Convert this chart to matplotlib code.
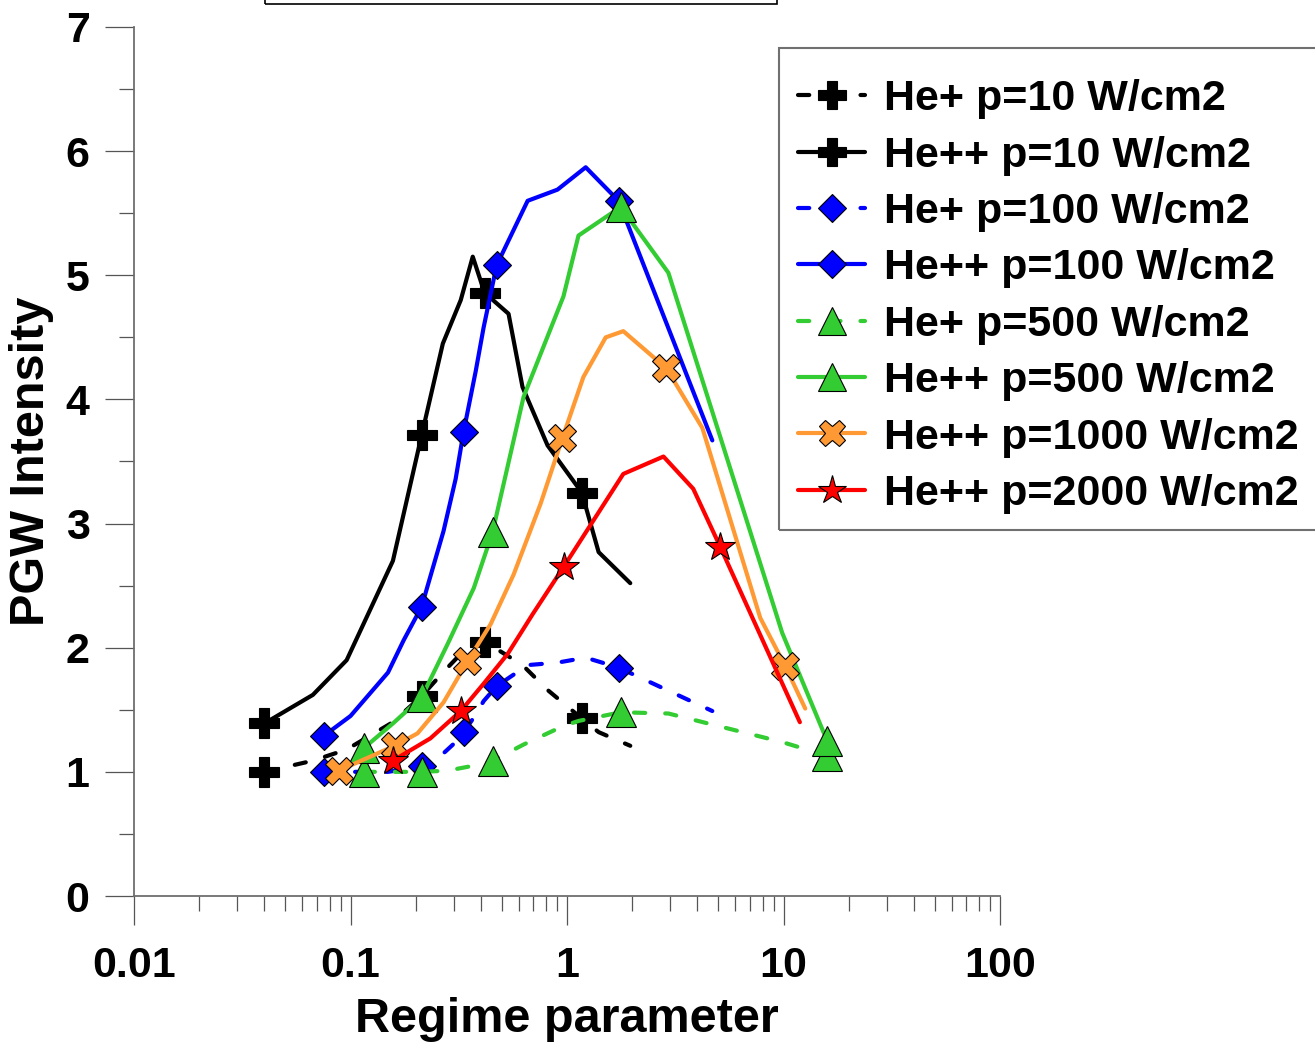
import matplotlib
matplotlib.use("Agg")
import matplotlib.pyplot as plt
from matplotlib.patches import Rectangle
from matplotlib.ticker import LogLocator, MultipleLocator, FixedFormatter, FixedLocator, NullFormatter

plt.rcParams["font.family"] = ["Liberation Sans", "DejaVu Sans"]
plt.rcParams["font.weight"] = "bold"

# He+ / He++ at p=10 W/cm2
x_p10 = [0.040, 0.067, 0.096, 0.157, 0.213, 0.267, 0.323, 0.367, 0.416, 0.537, 0.623, 0.813, 1.17, 1.40, 1.96]
he1_p10 = [1.00, 1.09, 1.18, 1.40, 1.61, 1.80, 1.95, 2.02, 2.05, 1.93, 1.86, 1.66, 1.43, 1.32, 1.21]
he2_p10 = [1.39, 1.62, 1.90, 2.70, 3.71, 4.45, 4.80, 5.15, 4.86, 4.69, 4.10, 3.63, 3.25, 2.77, 2.52]
mk_p10 = [0, 4, 8, 12]

# p=100 W/cm2
x_p100 = [0.0753, 0.100, 0.149, 0.176, 0.213, 0.269, 0.306, 0.333, 0.379, 0.412, 0.473, 0.658, 0.904, 1.22, 1.73, 4.69]
he1_p100 = [1.00, 1.00, 1.00, 1.02, 1.05, 1.15, 1.24, 1.32, 1.46, 1.57, 1.69, 1.86, 1.88, 1.92, 1.84, 1.49]
he2_p100 = [1.29, 1.45, 1.80, 2.06, 2.33, 2.94, 3.36, 3.74, 4.23, 4.58, 5.08, 5.60, 5.69, 5.87, 5.60, 3.67]
mk_p100 = [0, 4, 7, 10, 14]

# p=500 W/cm2
x_p500 = [0.115, 0.157, 0.213, 0.281, 0.371, 0.453, 0.63, 0.963, 1.13, 1.77, 2.94, 9.86, 15.9]
he1_p500 = [1.00, 1.00, 1.00, 1.01, 1.05, 1.09, 1.22, 1.37, 1.41, 1.48, 1.47, 1.24, 1.13]
he2_p500 = [1.19, 1.39, 1.60, 2.03, 2.48, 2.93, 4.02, 4.83, 5.32, 5.55, 5.02, 2.12, 1.25]
mk_p500 = [0, 2, 5, 9, 12]

# p=1000 W/cm2
x_p1000 = [0.0883, 0.160, 0.204, 0.269, 0.347, 0.444, 0.567, 0.755, 0.953, 1.19, 1.51, 1.82, 2.88, 4.22, 7.81, 10.2, 12.6]
he2_p1000 = [1.01, 1.21, 1.31, 1.56, 1.89, 2.19, 2.59, 3.16, 3.69, 4.18, 4.50, 4.55, 4.25, 3.77, 2.24, 1.85, 1.51]
mk_p1000 = [0, 1, 4, 8, 12, 15]

# p=2000 W/cm2
x_p2000 = [0.157, 0.234, 0.323, 0.412, 0.532, 0.694, 0.964, 1.82, 2.79, 3.83, 5.11, 11.9]
he2_p2000 = [1.09, 1.27, 1.49, 1.71, 1.95, 2.27, 2.65, 3.40, 3.54, 3.28, 2.81, 1.40]
mk_p2000 = [0, 2, 6, 10]

BLACK = "#000000"
BLUE = "#0000FF"
GREEN = "#33CC33"
ORANGE = "#FF9933"
RED = "#FF0000"

W, H = 1315, 1042
fig = plt.figure(figsize=(W / 100, H / 100), dpi=100)
ax = fig.add_axes([134 / W, 1 - 896 / H, (1000 - 134) / W, (896 - 27) / H])

LW = 3.0
DASH = (2.7, 4.8)
common = dict(lw=LW, solid_capstyle="round", dash_capstyle="round", markeredgecolor="black", markeredgewidth=0.8)

series = [
    (x_p10, he1_p10, mk_p10, BLACK, "--", "P", 21, "He+ p=10 W/cm2"),
    (x_p10, he2_p10, mk_p10, BLACK, "-", "P", 21, "He++ p=10 W/cm2"),
    (x_p100, he1_p100, mk_p100, BLUE, "--", "D", 14.5, "He+ p=100 W/cm2"),
    (x_p100, he2_p100, mk_p100, BLUE, "-", "D", 14.5, "He++ p=100 W/cm2"),
    (x_p500, he1_p500, mk_p500, GREEN, "--", "^", 21, "He+ p=500 W/cm2"),
    (x_p500, he2_p500, mk_p500, GREEN, "-", "^", 21, "He++ p=500 W/cm2"),
    (x_p1000, he2_p1000, mk_p1000, ORANGE, "-", "X", 20, "He++ p=1000 W/cm2"),
    (x_p2000, he2_p2000, mk_p2000, RED, "-", "*", 22, "He++ p=2000 W/cm2"),
]

for xs, ys, mk, col, ls, marker, ms, label in series:
    line, = ax.plot(xs, ys, ls, color=col, marker=marker, ms=ms, markevery=mk,
                    markerfacecolor=col, label=label, **common)
    if ls == "--":
        line.set_dashes(DASH)

ax.set_xscale("log")
ax.set_xlim(0.01, 100)
ax.set_ylim(0, 7)

ax.xaxis.set_major_locator(FixedLocator([0.01, 0.1, 1, 10, 100]))
ax.xaxis.set_major_formatter(FixedFormatter(["0.01", "0.1", "1", "10", "100"]))
ax.xaxis.set_minor_locator(LogLocator(base=10, subs=range(2, 10)))
ax.xaxis.set_minor_formatter(NullFormatter())
ax.yaxis.set_major_locator(MultipleLocator(1))
ax.yaxis.set_minor_locator(MultipleLocator(0.5))

for s in ["top", "right"]:
    ax.spines[s].set_visible(False)
for s in ["left", "bottom"]:
    ax.spines[s].set_color("#6e6e6e")
    ax.spines[s].set_linewidth(1.3)

ax.tick_params(which="major", direction="out", length=21, width=0.9, color="#555555", labelsize=31)
ax.tick_params(which="minor", direction="out", length=11, width=0.9, color="#555555")
ax.tick_params(axis="x", which="major", pad=15)
ax.tick_params(axis="y", which="major", pad=11)
for lab in ax.get_xticklabels() + ax.get_yticklabels():
    lab.set_fontweight("bold")

ax.set_xlabel("Regime parameter", fontsize=35, fontweight="bold", labelpad=8)
ax.set_ylabel("PGW Intensity", fontsize=35, fontweight="bold", labelpad=8)

# legend without its own frame; the box (open at the right edge) is drawn separately
leg = ax.legend(loc="upper left", bbox_to_anchor=(779 / W, 1 - 60 / H), bbox_transform=fig.transFigure,
                borderaxespad=0, prop={"weight": "bold", "size": 31},
                frameon=False, handlelength=1.55, handletextpad=0.45,
                labelspacing=0.38, borderpad=0.45, markerscale=0.95)

fig.add_artist(Rectangle((779 / W, 1 - 530 / H), 0.5, (530 - 48) / H, transform=fig.transFigure,
                         fill=False, edgecolor="#707070", lw=1.5, clip_on=False))
fig.add_artist(Rectangle((265 / W, 1 - 4 / H), (777 - 265) / W, 0.2, transform=fig.transFigure,
                         fill=False, edgecolor="black", lw=1.2, clip_on=False))

plt.savefig("out.png", dpi=100)
plt.close()
